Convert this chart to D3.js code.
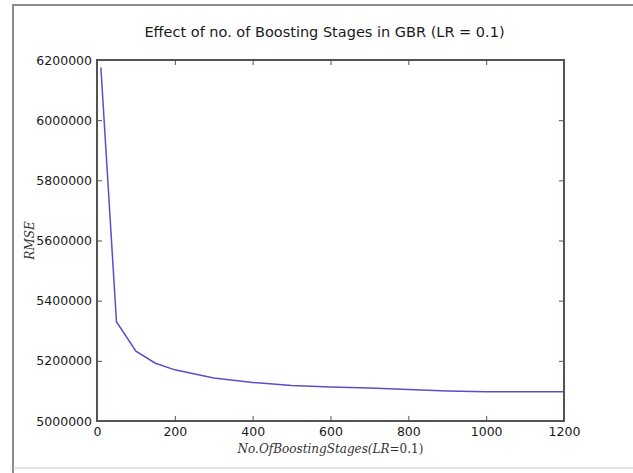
<html>
<head>
<script src="https://cdn.jsdelivr.net/npm/d3@7"></script>
<style>
  body, html { margin:0; padding:0; background:#fff; }
  svg { display:block; }
</style>
</head>
<body>
<svg id="chart" width="633" height="473"></svg>
<script>
// boosting stages vs RMSE
var stages = [10, 50, 100, 150, 200, 300, 400, 500, 600, 700, 800, 900, 1000, 1100, 1200];
var rmse = [6175000, 5330000, 5232000, 5192000, 5170000, 5143000, 5128000, 5118000, 5113000, 5110000, 5105000, 5100000, 5097000, 5097000, 5097000];
var xTicks = [0, 200, 400, 600, 800, 1000, 1200];
var yTicks = [5000000, 5200000, 5400000, 5600000, 5800000, 6000000, 6200000];

var svg = d3.select("#chart");
var m = {left: 97, top: 60, right: 564, bottom: 421};
var frameColor = "#575151";

// outer page frame
svg.append("path")
   .attr("d", "M13,473 L13,5 L633,5")
   .attr("fill", "none")
   .attr("stroke", "#8a8a8a")
   .attr("stroke-width", 2);
svg.append("line")
   .attr("x1", 13).attr("x2", 633).attr("y1", 468).attr("y2", 468)
   .attr("stroke", "#c8c8c8").attr("stroke-width", 1);

var x = d3.scaleLinear().domain([0, 1200]).range([m.left, m.right]);
var y = d3.scaleLinear().domain([5000000, 6200000]).range([m.bottom, m.top]);

// title
svg.append("text")
   .attr("x", (m.left + m.right) / 2 - 6).attr("y", 37)
   .attr("text-anchor", "middle")
   .style("font-family", "DejaVu Sans").style("font-size", "14.5px")
   .style("fill", "#1a1a1a")
   .text("Effect of no. of Boosting Stages in GBR (LR = 0.1)");

// line
var line = d3.line()
   .x(function(d, i){ return x(stages[i]); })
   .y(function(d){ return y(d); });
svg.append("path")
   .datum(rmse)
   .attr("d", line)
   .attr("fill", "none")
   .attr("stroke", "#5e4ccc")
   .attr("stroke-width", 1.5);

// axes: matplotlib style inward ticks on every side
var tickStyle = function(g){
  g.select(".domain").remove();
  g.selectAll(".tick line").attr("stroke", frameColor).attr("stroke-width", 1);
  g.selectAll(".tick text")
   .style("font-family", "DejaVu Sans").style("font-size", "12.5px").style("fill", "#1a1a1a");
};

svg.append("g").attr("transform", "translate(0," + m.bottom + ")")
   .call(d3.axisBottom(x).tickValues(xTicks).tickFormat(d3.format("d")).tickSizeInner(-5).tickPadding(6))
   .call(tickStyle);
svg.append("g").attr("transform", "translate(0," + m.top + ")")
   .call(d3.axisTop(x).tickValues(xTicks).tickFormat("").tickSizeInner(-5))
   .call(tickStyle);
svg.append("g").attr("transform", "translate(" + m.left + ",0)")
   .call(d3.axisLeft(y).tickValues(yTicks).tickFormat(d3.format("d")).tickSizeInner(-5).tickPadding(5))
   .call(tickStyle);
svg.append("g").attr("transform", "translate(" + m.right + ",0)")
   .call(d3.axisRight(y).tickValues(yTicks).tickFormat("").tickSizeInner(-5))
   .call(tickStyle);

// plot frame
svg.append("rect")
   .attr("x", m.left).attr("y", m.top)
   .attr("width", m.right - m.left).attr("height", m.bottom - m.top)
   .attr("fill", "none")
   .attr("stroke", frameColor)
   .attr("stroke-width", 2);

// axis labels (mathtext look)
var xl = svg.append("text")
   .attr("x", (m.left + m.right) / 2).attr("y", 453)
   .attr("text-anchor", "middle")
   .style("font-family", "DejaVu Serif").style("font-size", "12px").style("fill", "#333");
xl.append("tspan").style("font-style", "italic").text("No.OfBoostingStages(LR");
xl.append("tspan").text("=0.1)");

svg.append("text")
   .attr("transform", "translate(34," + ((m.top + m.bottom) / 2) + ") rotate(-90)")
   .attr("text-anchor", "middle")
   .style("font-family", "DejaVu Serif").style("font-size", "12px")
   .style("font-style", "italic").style("fill", "#333")
   .text("RMSE");
</script>
</body>
</html>
